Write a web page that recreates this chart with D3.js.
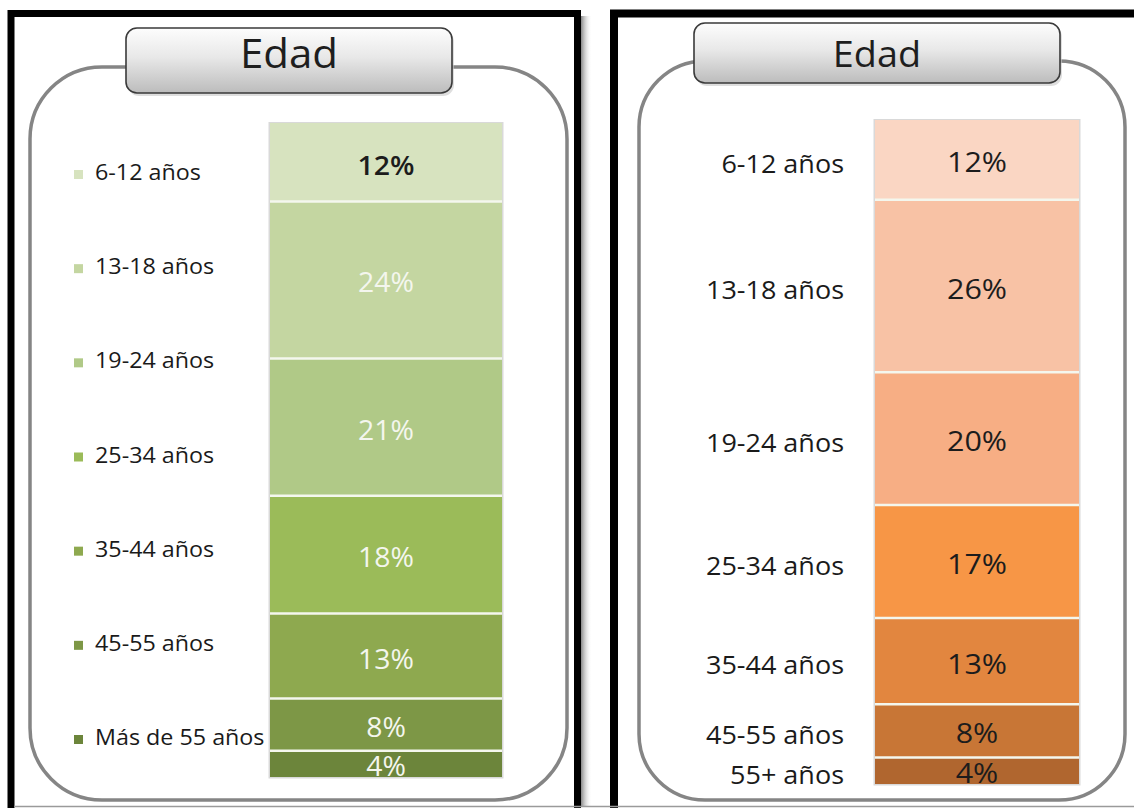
<!DOCTYPE html>
<html>
<head>
<meta charset="utf-8">
<script src="https://d3js.org/d3.v7.min.js"></script>
<style>
  body { margin: 0; background: #fff; }
  svg { display: block; }
</style>
</head>
<body>
<div id="chart"></div>
<script>
// Datos
const titulo = "Edad";
const categoriasIzq = ["6-12 años", "13-18 años", "19-24 años", "25-34 años", "35-44 años", "45-55 años", "Más de 55 años"];
const valoresIzq = [12, 24, 21, 18, 13, 8, 4];
const categoriasDer = ["6-12 años", "13-18 años", "19-24 años", "25-34 años", "35-44 años", "45-55 años", "55+ años"];
const valoresDer = [12, 26, 20, 17, 13, 8, 4];

const coloresIzq = ["#d7e3bf", "#c4d6a1", "#b0c987", "#9bbb59", "#8ea94f", "#7d9746", "#6c853b"];
const coloresDer = ["#fad6c3", "#f8c2a5", "#f7ae84", "#f79646", "#e2863f", "#c87636", "#b0662f"];

const W = 1134, H = 812;
const FONT = "'Open Sans', 'Noto Sans', sans-serif";
const SX = 1.12; // the original text is slightly stretched horizontally

const svg = d3.select("#chart").append("svg")
  .attr("width", W)
  .attr("height", H)
  .style("font-family", FONT);

svg.append("rect").attr("width", W).attr("height", H).attr("fill", "#fff");

const defs = svg.append("defs");
const grad = defs.append("linearGradient").attr("id", "tituloGrad")
  .attr("x1", 0).attr("y1", 0).attr("x2", 0).attr("y2", 1);
grad.append("stop").attr("offset", "0%").attr("stop-color", "#fdfdfd");
grad.append("stop").attr("offset", "45%").attr("stop-color", "#e8e8e8");
grad.append("stop").attr("offset", "100%").attr("stop-color", "#bcbcbc");

const sombra = defs.append("linearGradient").attr("id", "sombraGrad")
  .attr("x1", 0).attr("y1", 0).attr("x2", 1).attr("y2", 0);
sombra.append("stop").attr("offset", "0%").attr("stop-color", "#6a6a6a").attr("stop-opacity", 0.8);
sombra.append("stop").attr("offset", "100%").attr("stop-color", "#ffffff").attr("stop-opacity", 0);

function textoEstirado(g, x, y, txt, opts) {
  return g.append("text")
    .attr("transform", `translate(${x},${y}) scale(${opts.sx || SX},1)`)
    .attr("text-anchor", opts.anchor || "start")
    .style("font-size", opts.size + "px")
    .style("font-weight", opts.weight || 400)
    .style("fill", opts.fill || "#1a1a1a")
    .text(txt);
}

function panel(cfg) {
  const g = svg.append("g");

  // marco negro
  g.append("rect")
    .attr("x", cfg.frame.x).attr("y", cfg.frame.y)
    .attr("width", cfg.frame.w).attr("height", cfg.frame.h)
    .attr("fill", "none").attr("stroke", "#000").attr("stroke-width", cfg.frame.sw);

  // caja redondeada
  g.append("rect")
    .attr("x", cfg.box.x).attr("y", cfg.box.y)
    .attr("width", cfg.box.w).attr("height", cfg.box.h)
    .attr("rx", cfg.box.r).attr("ry", cfg.box.r)
    .attr("fill", "#fff").attr("stroke", "#858585").attr("stroke-width", 3.5);

  // caja del título
  g.append("rect")
    .attr("x", cfg.title.x + 2).attr("y", cfg.title.y + 3)
    .attr("width", cfg.title.w).attr("height", cfg.title.h)
    .attr("rx", 11).attr("fill", "#c8c8c8").attr("opacity", 0.6);
  g.append("rect")
    .attr("x", cfg.title.x).attr("y", cfg.title.y)
    .attr("width", cfg.title.w).attr("height", cfg.title.h)
    .attr("rx", 11).attr("ry", 11)
    .attr("fill", "url(#tituloGrad)").attr("stroke", "#3a3a3a").attr("stroke-width", 1.6);
  textoEstirado(g, cfg.title.x + cfg.title.w / 2, cfg.title.base, titulo,
    { size: cfg.title.size, anchor: "middle", fill: "#1e1e1e", sx: 1.05 });

  // barra apilada
  const ends = d3.cumsum(cfg.values);
  const starts = ends.map((e, i) => e - cfg.values[i]);
  const y = d3.scaleLinear().domain([0, d3.sum(cfg.values)]).range([cfg.bar.top, cfg.bar.bottom]);
  const x = d3.scaleBand().domain(["Edad"]).range([cfg.bar.left, cfg.bar.right]).padding(0);

  g.append("rect")
    .attr("x", x("Edad") - 1.5).attr("y", y(0) - 1)
    .attr("width", x.bandwidth() + 3).attr("height", y(d3.sum(cfg.values)) - y(0) + 2.5)
    .attr("fill", "#d9d9d9");

  const segs = cfg.values.map((v, i) => ({ v, i, s: starts[i], e: ends[i] }));

  g.selectAll("rect.seg").data(segs).join("rect")
    .attr("class", "seg")
    .attr("x", x("Edad"))
    .attr("y", d => y(d.s))
    .attr("width", x.bandwidth())
    .attr("height", d => y(d.e) - y(d.s))
    .attr("fill", d => cfg.colors[d.i]);

  g.selectAll("line.sep").data(segs.slice(1)).join("line")
    .attr("class", "sep")
    .attr("x1", x("Edad")).attr("x2", x("Edad") + x.bandwidth())
    .attr("y1", d => y(d.s)).attr("y2", d => y(d.s))
    .attr("stroke", "#f4f7ee").attr("stroke-width", 2.5);

  segs.forEach(d => {
    textoEstirado(g, x("Edad") + x.bandwidth() / 2, (y(d.s) + y(d.e)) / 2 + 12.5,
      d.v + "%", { size: 27, anchor: "middle", fill: cfg.valueFill(d.i), sx: cfg.valueSx, weight: cfg.valueWeight(d.i) });
  });

  return { g, y, segs };
}

// Panel izquierdo (verde)
const izq = panel({
  frame: { x: 11, y: 13.5, w: 566.5, h: 840, sw: 7 },
  box: { x: 30, y: 67, w: 537, h: 733, r: 72 },
  title: { x: 126, y: 28, w: 326, h: 65, base: 68, size: 40 },
  bar: { left: 270, right: 502, top: 123, bottom: 777 },
  values: valoresIzq,
  colors: coloresIzq,
  valueFill: i => i === 0 ? "#1c1c1c" : "#f4f6ee",
  valueSx: 1.05,
  valueWeight: i => i === 0 ? 600 : 500
});

// leyenda izquierda
const leg = d3.scalePoint().domain(categoriasIzq).range([180, 745]);
categoriasIzq.forEach((c, i) => {
  izq.g.append("rect")
    .attr("x", 74).attr("y", leg(c) - 10)
    .attr("width", 9).attr("height", 9)
    .attr("fill", coloresIzq[i]);
  textoEstirado(izq.g, 95, leg(c), c, { size: 21, fill: "#1a1a1a", sx: 1.11, weight: 500 });
});

// sombra a la derecha del marco izquierdo
svg.append("rect").attr("x", 581).attr("y", 16).attr("width", 11).attr("height", 790)
  .attr("fill", "url(#sombraGrad)");

// Panel derecho (naranja)
const der = panel({
  frame: { x: 614, y: 13.5, w: 600, h: 840, sw: 8 },
  box: { x: 639, y: 61, w: 486, h: 739, r: 66 },
  title: { x: 694, y: 23, w: 366, h: 60, base: 67, size: 36 },
  bar: { left: 875, right: 1079, top: 120, bottom: 784 },
  values: valoresDer,
  colors: coloresDer,
  valueFill: () => "#1c1c1c",
  valueSx: 1.13,
  valueWeight: () => 500
});

der.segs.forEach(d => {
  textoEstirado(der.g, 844, (der.y(d.s) + der.y(d.e)) / 2 + 13, categoriasDer[d.i],
    { size: 25, anchor: "end", fill: "#1a1a1a", sx: 1.08, weight: 500 });
});

// línea gris inferior
svg.append("line").attr("x1", 14).attr("x2", W).attr("y1", 806.5).attr("y2", 806.5)
  .attr("stroke", "#9a9a9a").attr("stroke-width", 1.5);
svg.append("rect").attr("x", 0).attr("y", 808).attr("width", W).attr("height", 4).attr("fill", "#fff");
</script>
</body>
</html>
